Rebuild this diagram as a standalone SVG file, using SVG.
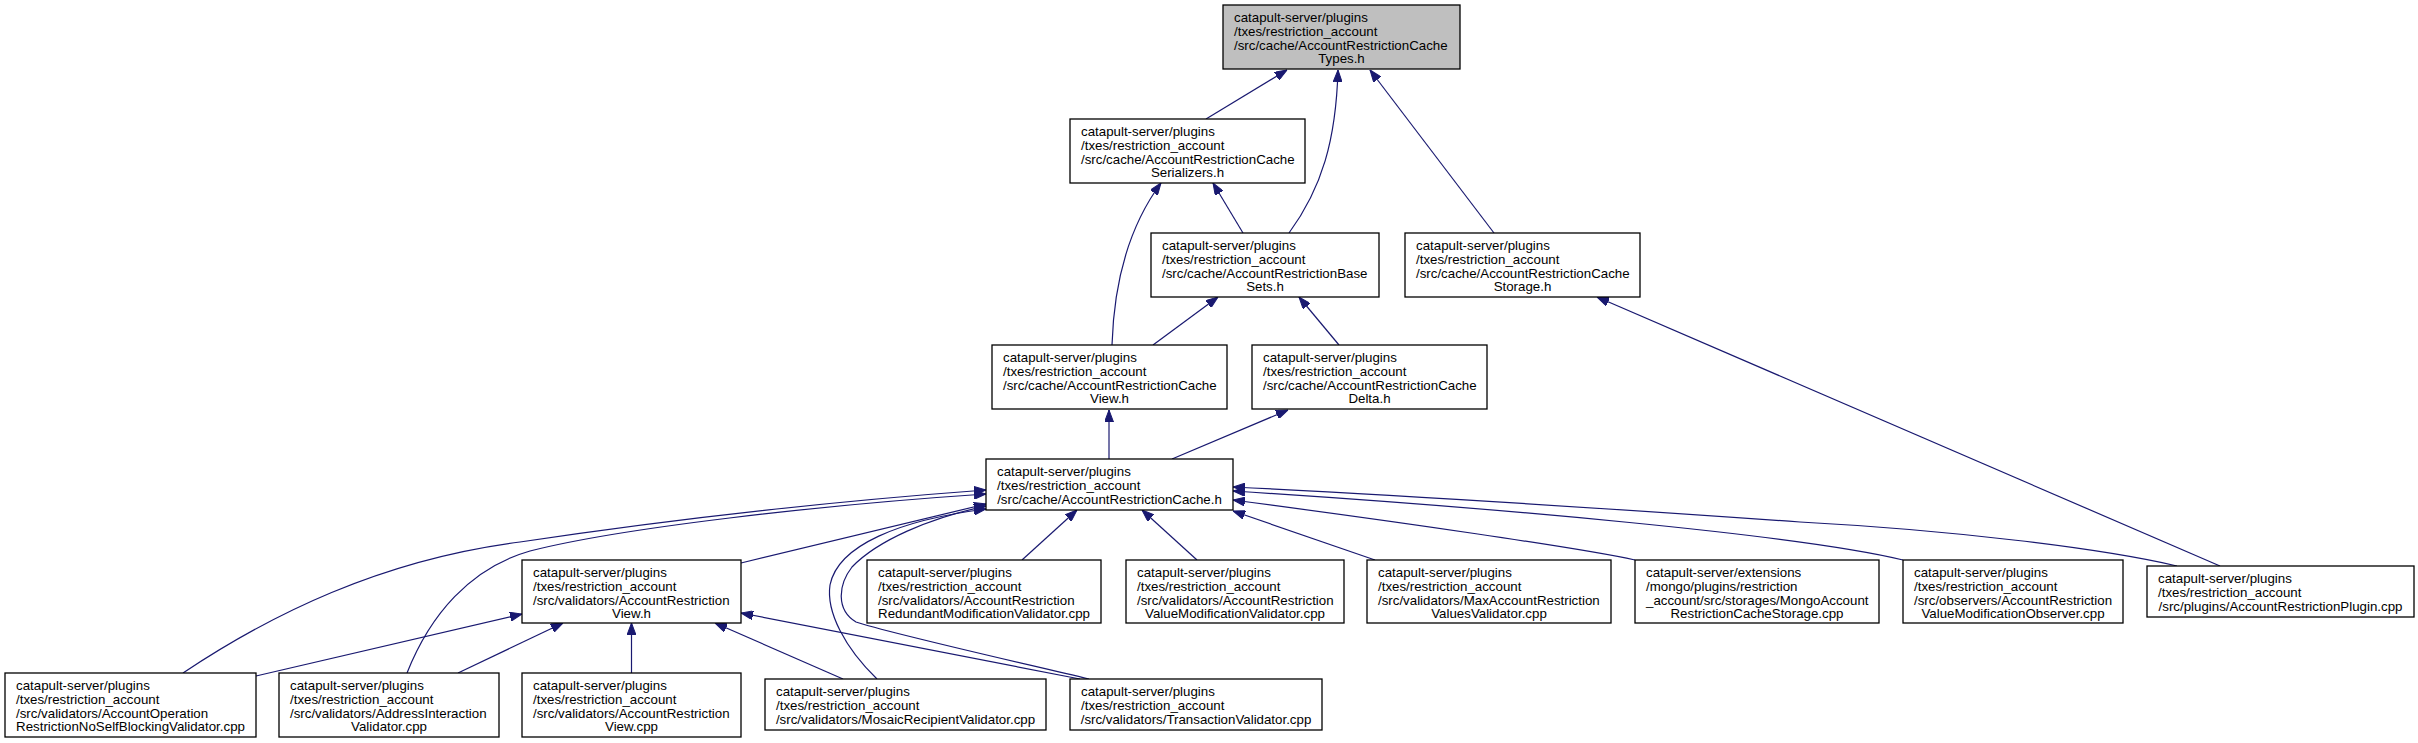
<svg xmlns="http://www.w3.org/2000/svg" width="2418" height="743" viewBox="0 0 2418 743">
<style>
  .box{fill:#ffffff;stroke:#000000;stroke-width:1.3}
  .root{fill:#bfbfbf;stroke:#000000;stroke-width:1.3}
  text{font-family:"Liberation Sans",Arial,Helvetica,sans-serif;font-size:13.3px;fill:#000000}
  .c{text-anchor:middle}
  .e{fill:none;stroke:#191970;stroke-width:1.2;marker-end:url(#ah)}
</style>
<defs>
  <marker id="ah" markerWidth="12" markerHeight="9" refX="12" refY="4.5" orient="auto" markerUnits="userSpaceOnUse">
    <path d="M0,0 L12,4.5 L0,9 z" fill="#191970" stroke="#191970" stroke-width="1"/>
  </marker>
</defs>
<rect x="0" y="0" width="2418" height="743" fill="#ffffff"/>
<g id="edges">
  <path class="e" d="M1206,119 L1287,70"/>
  <path class="e" d="M1289,233 C1322,188 1336,140 1338,70"/>
  <path class="e" d="M1494,233 L1370,70"/>
  <path class="e" d="M1243,233 L1213,183"/>
  <path class="e" d="M1112,345 C1114,280 1130,225 1161,183"/>
  <path class="e" d="M1153,345 L1218,297"/>
  <path class="e" d="M1339,345 L1299,297"/>
  <path class="e" d="M1109,459 L1109,410"/>
  <path class="e" d="M1172,459 L1288,410"/>
  <path class="e" d="M2220,566 L1597,297"/>
  <path class="e" d="M183,673 C270,615 380,560 520,542 C680,518 850,500 986,490"/>
  <path class="e" d="M407,673 C430,615 470,568 530,551 C620,528 820,505 986,494"/>
  <path class="e" d="M741,563 L986,504"/>
  <path class="e" d="M877,679 C845,648 826,612 830,585 C838,545 900,520 986,509"/>
  <path class="e" d="M1089,679 C1000,658 885,632 856,622 C836,610 838,585 852,567 C878,540 930,518 986,506"/>
  <path class="e" d="M1022,560 L1077,510"/>
  <path class="e" d="M1197,560 L1142,510"/>
  <path class="e" d="M1375,560 L1233,511"/>
  <path class="e" d="M1635,560 C1580,548 1400,522 1233,500"/>
  <path class="e" d="M1903,560 C1800,535 1500,508 1233,491"/>
  <path class="e" d="M2177,566 C2100,548 1950,530 1800,522 C1600,508 1400,495 1233,487"/>
  <path class="e" d="M256,676 L522,614"/>
  <path class="e" d="M458,673 L563,623"/>
  <path class="e" d="M631.5,673 L631.5,623"/>
  <path class="e" d="M843,679 L715,623"/>
  <path class="e" d="M1080,679 L741,613"/>
</g>
<g id="n_types">
  <rect class="root" x="1223" y="5" width="237" height="64"/>
  <text x="1234" y="22.3">catapult-server/plugins</text>
  <text x="1234" y="36">/txes/restriction_account</text>
  <text x="1234" y="49.7">/src/cache/AccountRestrictionCache</text>
  <text class="c" x="1341.5" y="63.4">Types.h</text>
</g>
<g id="n_serializers">
  <rect class="box" x="1070" y="119" width="235" height="64"/>
  <text x="1081" y="136.3">catapult-server/plugins</text>
  <text x="1081" y="150">/txes/restriction_account</text>
  <text x="1081" y="163.7">/src/cache/AccountRestrictionCache</text>
  <text class="c" x="1187.5" y="177.4">Serializers.h</text>
</g>
<g id="n_basesets">
  <rect class="box" x="1151" y="233" width="228" height="64"/>
  <text x="1162" y="250.3">catapult-server/plugins</text>
  <text x="1162" y="264">/txes/restriction_account</text>
  <text x="1162" y="277.7">/src/cache/AccountRestrictionBase</text>
  <text class="c" x="1265" y="291.4">Sets.h</text>
</g>
<g id="n_storage">
  <rect class="box" x="1405" y="233" width="235" height="64"/>
  <text x="1416" y="250.3">catapult-server/plugins</text>
  <text x="1416" y="264">/txes/restriction_account</text>
  <text x="1416" y="277.7">/src/cache/AccountRestrictionCache</text>
  <text class="c" x="1522.5" y="291.4">Storage.h</text>
</g>
<g id="n_view">
  <rect class="box" x="992" y="345" width="235" height="64"/>
  <text x="1003" y="362.3">catapult-server/plugins</text>
  <text x="1003" y="376">/txes/restriction_account</text>
  <text x="1003" y="389.7">/src/cache/AccountRestrictionCache</text>
  <text class="c" x="1109.5" y="403.4">View.h</text>
</g>
<g id="n_delta">
  <rect class="box" x="1252" y="345" width="235" height="64"/>
  <text x="1263" y="362.3">catapult-server/plugins</text>
  <text x="1263" y="376">/txes/restriction_account</text>
  <text x="1263" y="389.7">/src/cache/AccountRestrictionCache</text>
  <text class="c" x="1369.5" y="403.4">Delta.h</text>
</g>
<g id="n_cache">
  <rect class="box" x="986" y="459" width="247" height="51"/>
  <text x="997" y="476.3">catapult-server/plugins</text>
  <text x="997" y="490">/txes/restriction_account</text>
  <text class="c" x="1109.5" y="503.7">/src/cache/AccountRestrictionCache.h</text>
</g>
<g id="n_arview_h">
  <rect class="box" x="522" y="560" width="219" height="63"/>
  <text x="533" y="577.3">catapult-server/plugins</text>
  <text x="533" y="591">/txes/restriction_account</text>
  <text x="533" y="604.7">/src/validators/AccountRestriction</text>
  <text class="c" x="631.5" y="618.4">View.h</text>
</g>
<g id="n_redundant">
  <rect class="box" x="867" y="560" width="234" height="63"/>
  <text x="878" y="577.3">catapult-server/plugins</text>
  <text x="878" y="591">/txes/restriction_account</text>
  <text x="878" y="604.7">/src/validators/AccountRestriction</text>
  <text class="c" x="984" y="618.4">RedundantModificationValidator.cpp</text>
</g>
<g id="n_valuemod">
  <rect class="box" x="1126" y="560" width="218" height="63"/>
  <text x="1137" y="577.3">catapult-server/plugins</text>
  <text x="1137" y="591">/txes/restriction_account</text>
  <text x="1137" y="604.7">/src/validators/AccountRestriction</text>
  <text class="c" x="1235" y="618.4">ValueModificationValidator.cpp</text>
</g>
<g id="n_maxvalues">
  <rect class="box" x="1367" y="560" width="244" height="63"/>
  <text x="1378" y="577.3">catapult-server/plugins</text>
  <text x="1378" y="591">/txes/restriction_account</text>
  <text x="1378" y="604.7">/src/validators/MaxAccountRestriction</text>
  <text class="c" x="1489" y="618.4">ValuesValidator.cpp</text>
</g>
<g id="n_mongo">
  <rect class="box" x="1635" y="560" width="244" height="63"/>
  <text x="1646" y="577.3">catapult-server/extensions</text>
  <text x="1646" y="591">/mongo/plugins/restriction</text>
  <text x="1646" y="604.7">_account/src/storages/MongoAccount</text>
  <text class="c" x="1757" y="618.4">RestrictionCacheStorage.cpp</text>
</g>
<g id="n_observer">
  <rect class="box" x="1903" y="560" width="220" height="63"/>
  <text x="1914" y="577.3">catapult-server/plugins</text>
  <text x="1914" y="591">/txes/restriction_account</text>
  <text x="1914" y="604.7">/src/observers/AccountRestriction</text>
  <text class="c" x="2013" y="618.4">ValueModificationObserver.cpp</text>
</g>
<g id="n_plugin">
  <rect class="box" x="2147" y="566" width="267" height="51"/>
  <text x="2158" y="583.3">catapult-server/plugins</text>
  <text x="2158" y="597">/txes/restriction_account</text>
  <text class="c" x="2280.5" y="610.7">/src/plugins/AccountRestrictionPlugin.cpp</text>
</g>
<g id="n_noself">
  <rect class="box" x="5" y="673" width="251" height="64"/>
  <text x="16" y="690.3">catapult-server/plugins</text>
  <text x="16" y="704">/txes/restriction_account</text>
  <text x="16" y="717.7">/src/validators/AccountOperation</text>
  <text class="c" x="130.5" y="731.4">RestrictionNoSelfBlockingValidator.cpp</text>
</g>
<g id="n_address">
  <rect class="box" x="279" y="673" width="220" height="64"/>
  <text x="290" y="690.3">catapult-server/plugins</text>
  <text x="290" y="704">/txes/restriction_account</text>
  <text x="290" y="717.7">/src/validators/AddressInteraction</text>
  <text class="c" x="389" y="731.4">Validator.cpp</text>
</g>
<g id="n_arview_cpp">
  <rect class="box" x="522" y="673" width="219" height="64"/>
  <text x="533" y="690.3">catapult-server/plugins</text>
  <text x="533" y="704">/txes/restriction_account</text>
  <text x="533" y="717.7">/src/validators/AccountRestriction</text>
  <text class="c" x="631.5" y="731.4">View.cpp</text>
</g>
<g id="n_mosaic">
  <rect class="box" x="765" y="679" width="281" height="51"/>
  <text x="776" y="696.3">catapult-server/plugins</text>
  <text x="776" y="710">/txes/restriction_account</text>
  <text class="c" x="905.5" y="723.7">/src/validators/MosaicRecipientValidator.cpp</text>
</g>
<g id="n_transaction">
  <rect class="box" x="1070" y="679" width="252" height="51"/>
  <text x="1081" y="696.3">catapult-server/plugins</text>
  <text x="1081" y="710">/txes/restriction_account</text>
  <text class="c" x="1196" y="723.7">/src/validators/TransactionValidator.cpp</text>
</g>
</svg>
